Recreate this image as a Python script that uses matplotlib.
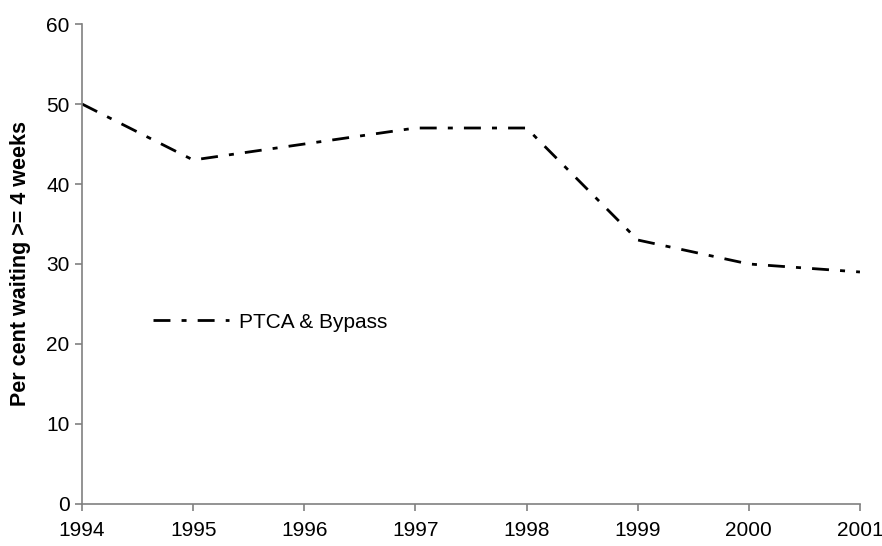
import matplotlib.pyplot as plt

#### Données ####
years = [1994, 1995, 1996, 1997, 1998, 1999, 2000, 2001]
waiting = [50, 43, 45, 47, 47, 33, 30, 29]
yticks = [0, 10, 20, 30, 40, 50, 60]
series_name = 'PTCA & Bypass'
ylabel = 'Per cent waiting >= 4 weeks'

plt.rcParams['font.family'] = ['Liberation Sans', 'DejaVu Sans']
fs = 15

#### Figure ####
fig = plt.figure(figsize=(8.82, 5.46), dpi=100)
ax = fig.add_axes([0.093, 0.077, 0.882, 0.879])

ax.plot(years, waiting, color='black', lw=2, ls=(0, (6.1, 4, 1.8, 4)),
        label=series_name)

ax.set_xlim(years[0], years[-1])
ax.set_ylim(yticks[0], yticks[-1])
ax.set_xticks(years)
ax.set_yticks(yticks)

for s in ['top', 'right']:
    ax.spines[s].set_visible(False)
for s in ['left', 'bottom']:
    ax.spines[s].set_color('#808080')
    ax.spines[s].set_linewidth(1.2)

ax.tick_params(axis='both', direction='out', length=5, width=1.2,
               color='#808080', labelsize=fs, labelcolor='black')
ax.tick_params(axis='x', pad=7)
ax.tick_params(axis='y', pad=4)

ax.set_ylabel(ylabel, fontsize=15.5, fontweight='bold', labelpad=11)

ax.legend(loc='center left', bbox_to_anchor=(0.091, 0.379), frameon=False,
          fontsize=fs, handlelength=3.67, handletextpad=0.47,
          borderpad=0, borderaxespad=0)

fig.savefig('out.png', dpi=100)
